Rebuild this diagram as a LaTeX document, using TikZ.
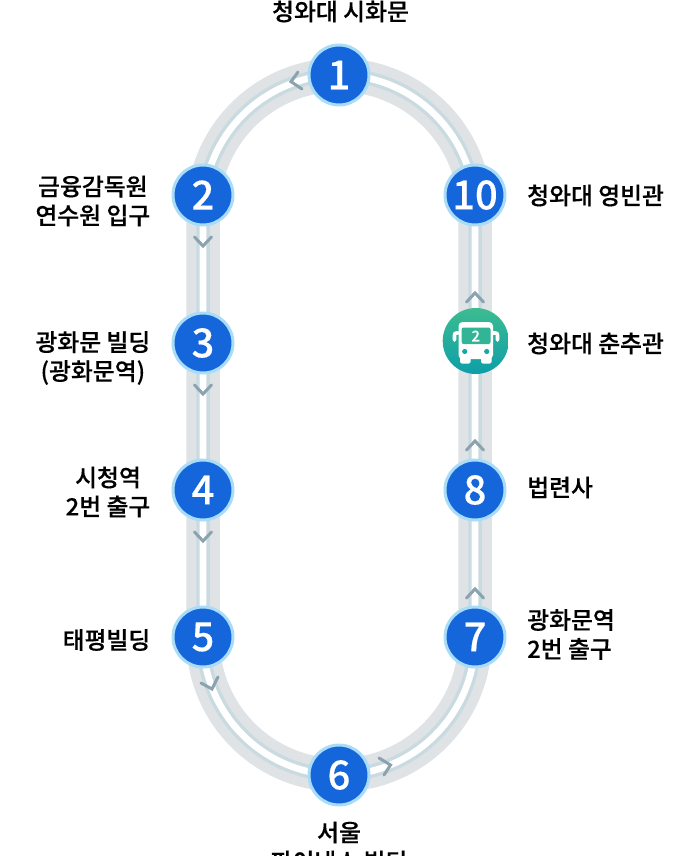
\documentclass[tikz,border=0pt]{standalone}
\usepackage{fontspec}
\setmainfont{Noto Sans CJK KR}
\newfontfamily\krm[FakeBold=0.35]{Noto Sans CJK KR Medium}
\usetikzlibrary{shadings}
\definecolor{trackgrey}{HTML}{DFE3E6}
\definecolor{trackblue}{HTML}{C9DAE0}
\definecolor{chev}{HTML}{8BA3AF}
\definecolor{ringc}{HTML}{A9DDF7}
\definecolor{fillc}{HTML}{1565DB}
\definecolor{busa}{HTML}{3DBC90}
\definecolor{busb}{HTML}{0D9EA9}
\tikzset{
  x=1pt,y=-1pt,
  stop/.style={circle,draw=ringc,line width=3pt,fill=fillc,minimum size=60pt,inner sep=0pt,text=white,font=\krm\fontsize{40}{40}\selectfont},
  lab/.style={inner sep=0pt,font=\krm\fontsize{23.8}{29}\selectfont,text=black},
  labl/.style={lab,anchor=east,align=center},
  labr/.style={lab,anchor=west,align=left},
  labc/.style={lab,align=center},
  chevron/.style={draw=chev,line width=3pt,line cap=round,line join=miter,fill=none},
}
\begin{document}
\begin{tikzpicture}
\useasboundingbox (0,0) rectangle (683,856);
\clip (0,0) rectangle (683,856);
\def\trackpath{(203,211) .. controls (203,136) and (264,75) .. (339,75) .. controls (414,75) and (475,136) .. (475,211) -- (475,639) .. controls (475,714) and (414,775) .. (339,775) .. controls (264,775) and (203,714) .. (203,639) -- cycle}
\draw[trackgrey,line width=33.5pt] \trackpath;
\draw[trackblue,line width=13.5pt] \trackpath;
\draw[white,line width=6.7pt] \trackpath;
% chevrons
\draw[chevron] (298,72) -- (291,81.7) -- (302,89);
\draw[chevron] (194.5,237) -- (203,246) -- (211.5,237);
\draw[chevron] (194.5,385) -- (203,394) -- (211.5,385);
\draw[chevron] (194.5,532) -- (203,541) -- (211.5,532);
\draw[chevron] (201,683) -- (212,689) -- (218,677);
\draw[chevron] (379,758) -- (390.5,765) -- (384,775);
\draw[chevron] (466.5,598) -- (475,589) -- (483.5,598);
\draw[chevron] (466.5,450) -- (475,441) -- (483.5,450);
\draw[chevron] (466.5,302) -- (475,293) -- (483.5,302);
% stops
\node[stop] (s1) at (339,75) {1};
\node[stop] (s2) at (203,195) {2};
\node[stop] (s3) at (203,343) {3};
\node[stop] (s4) at (203,490) {4};
\node[stop] (s5) at (203,637) {5};
\node[stop] (s6) at (339,775) {6};
\node[stop] (s7) at (475,637) {7};
\node[stop] (s8) at (475,490) {8};
\node[stop] (s10) at (475,195) {10};
% bus
\node[circle,minimum size=66pt,inner sep=0pt,top color=busa,bottom color=busb,draw=none] (bus) at (475.7,341) {};
\fill[white,rounded corners=4pt] (458.5,322) rectangle (493,359);
\fill[white,rounded corners=1.5pt] (460,354) rectangle (470.5,363.5);
\fill[white,rounded corners=1.5pt] (481,354) rectangle (491.5,363.5);
\draw[white,line width=3.6pt,line cap=round,rounded corners=2pt] (458,333) -- (454.5,333) -- (454.5,340);
\draw[white,line width=3.6pt,line cap=round,rounded corners=2pt] (493,333) -- (497.5,333) -- (497.5,340);
\fill[busa!75!busb,rounded corners=2pt] (461.7,327.5) rectangle (490.5,344);
\fill[busb!70!busa] (464.7,351.5) circle[radius=2.6];
\fill[busb!70!busa] (486.7,351.5) circle[radius=2.6];
\node[inner sep=0pt,text=white,font=\krm\fontsize{15}{15}\selectfont] (busn) at (475.7,336) {2};
% labels
\node[labc] (l1) at (340.5,11.5) {청와대 시화문};
\node[labl] (l2) at (150.5,201) {금융감독원\\연수원 입구};
\node[labl] (l3) at (150.5,358) {광화문 빌딩\\(광화문역)};
\node[labl] (l4) at (150.5,492) {시청역\\2번 출구};
\node[labl] (l5) at (150.5,640) {태평빌딩};
\node[labc] (l6) at (339,847) {서울\\파이낸스 빌딩};
\node[labr] (l7) at (527,634.5) {광화문역\\2번 출구};
\node[labr] (l8) at (527,487.5) {법련사};
\node[labr] (lb) at (527,343.5) {청와대 춘추관};
\node[labr] (l10) at (527,195.5) {청와대 영빈관};
\end{tikzpicture}
\end{document}
